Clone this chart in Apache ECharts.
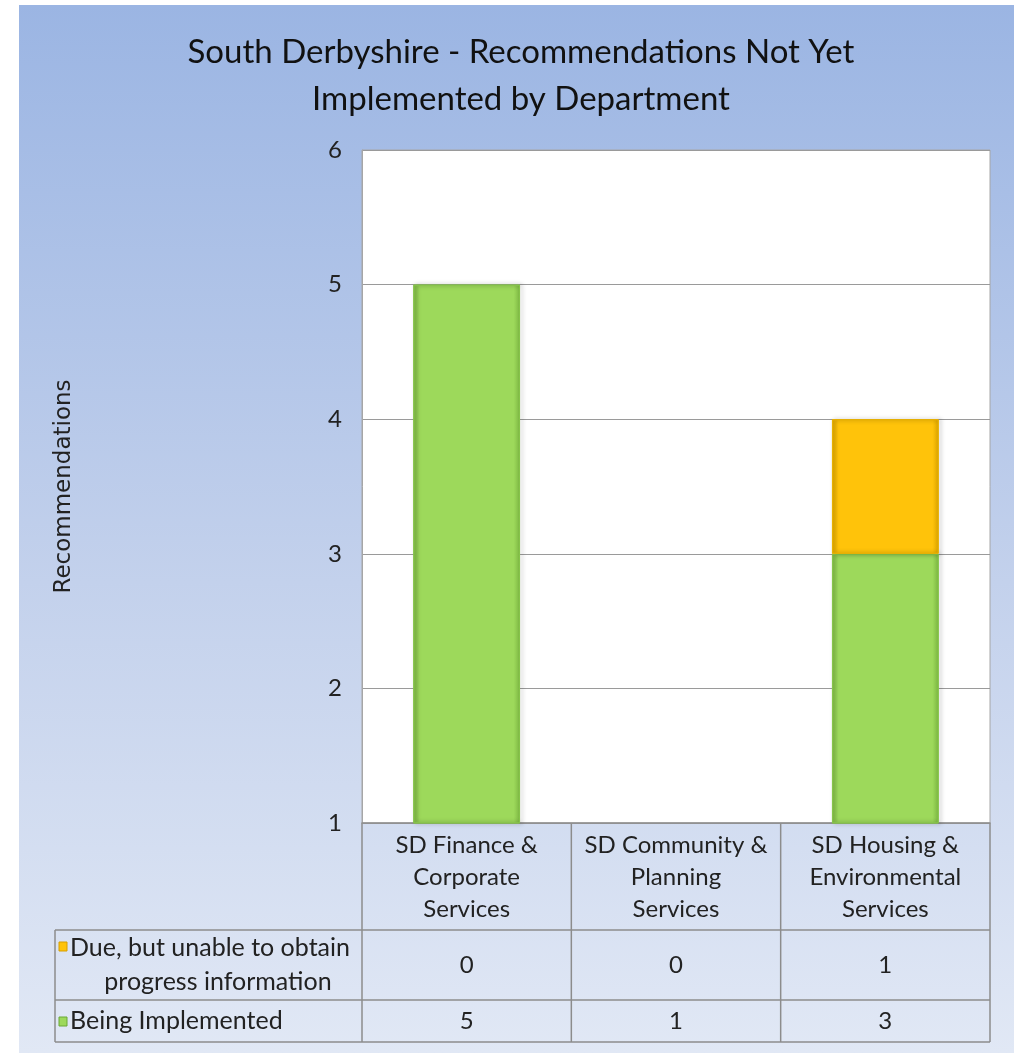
<!DOCTYPE html>
<html>
<head>
<meta charset="UTF-8">
<title>South Derbyshire</title>
<script src="https://cdn.jsdelivr.net/npm/echarts@6/dist/echarts.min.js"></script>
<style>
  body { margin: 0; background: #fff; }
  .panel {
    position: absolute; left: 19px; top: 5px; width: 995px; height: 1048px;
    background: linear-gradient(to bottom, #9bb5e3 0%, #c3d1ec 55%, #e1e8f5 100%);
  }
  #chart { position: absolute; left: 0; top: 0; width: 1020px; height: 1053px; }
</style>
</head>
<body>
<div class="panel"></div>
<div id="chart"></div>
<script>
  const FONT = "Lato, 'DejaVu Sans', sans-serif"
  const categories = ['SD Finance &\nCorporate\nServices', 'SD Community &\nPlanning\nServices', 'SD Housing &\nEnvironmental\nServices']
  const beingImplemented = [5, 1, 3]
  const dueNoInfo = [0, 0, 1]
  const seriesNames = ['Due, but unable to obtain\nprogress information', 'Being Implemented']
  const yTicks = [1, 2, 3, 4, 5, 6]

  const GREEN = '#9dd95b'
  const YELLOW = '#ffc30a'

  function bevel(c, dark) {
    return {
      type: 'linear', x: 0, y: 0, x2: 1, y2: 0,
      colorStops: [
        {offset: 0, color: dark}, {offset: 0.06, color: c},
        {offset: 0.94, color: c}, {offset: 1, color: dark}
      ]
    }
  }
  // zero values draw no bar (Excel shows nothing for them)
  const noZero = arr => arr.map(v => v === 0 ? '-' : v)

  let chart = echarts.init(document.getElementById('chart'), null, {renderer: 'canvas'})
  let option = {
    animation: false,
    title: {
      text: 'South Derbyshire - Recommendations Not Yet\nImplemented by Department',
      left: 516, top: 24, textAlign: 'center',
      textStyle: {fontFamily: FONT, fontSize: 33, fontWeight: 'normal', color: '#111', lineHeight: 47}
    },
    grid: {
      left: 362, top: 150, width: 628, height: 673,
      show: true, backgroundColor: '#fff', borderColor: '#a6a6a6', borderWidth: 1
    },
    xAxis: {
      type: 'category', data: categories,
      axisLine: {lineStyle: {color: '#8f8f8f', width: 1.5}},
      axisTick: {show: false},
      axisLabel: {interval: 0, fontFamily: FONT, fontSize: 24, color: '#222', lineHeight: 32, margin: 6}
    },
    yAxis: {
      type: 'value', min: yTicks[0], max: yTicks[yTicks.length - 1], interval: 1,
      name: 'Recommendations', nameLocation: 'middle', nameGap: 286, nameRotate: 90,
      nameTextStyle: {fontFamily: "'DejaVu Sans', sans-serif", fontSize: 23, color: '#222'},
      axisLine: {show: true, lineStyle: {color: '#a6a6a6'}},
      axisTick: {show: false},
      axisLabel: {fontFamily: FONT, fontSize: 24, color: '#222', margin: 20},
      splitLine: {lineStyle: {color: '#9a9a9a', width: 1}}
    },
    series: [
      {
        name: seriesNames[1], type: 'bar', stack: 'total', data: noZero(beingImplemented), barWidth: '51%',
        itemStyle: {color: bevel(GREEN, '#7fba44'), borderColor: '#86c44a', borderWidth: 1,
          shadowBlur: 4, shadowColor: 'rgba(0,0,0,0.35)', shadowOffsetX: 2}
      },
      {
        name: seriesNames[0], type: 'bar', stack: 'total', data: noZero(dueNoInfo), barWidth: '51%',
        itemStyle: {color: bevel(YELLOW, '#e0a800'), borderColor: '#e8b000', borderWidth: 1,
          shadowBlur: 4, shadowColor: 'rgba(0,0,0,0.35)', shadowOffsetX: 2}
      }
    ]
  }
  chart.setOption(option)

  // data table under the plot, built from the same arrays
  const tableLeft = 55, x0 = 362, x1 = 990
  const yHead = 823, yRow1 = 930, yRow2 = 1000, yEnd = 1042
  const lineStyle = {stroke: '#8c8c8c', lineWidth: 1.5}
  const cellFont = '24px ' + FONT
  let g = []
  let bounds = [x0]
  categories.forEach((c, i) => {
    let cx = chart.convertToPixel({xAxisIndex: 0}, i)
    let next = i < categories.length - 1 ? chart.convertToPixel({xAxisIndex: 0}, i + 1) : null
    bounds.push(next === null ? x1 : (cx + next) / 2)
    g.push({type: 'text', x: cx, y: (yRow1 + yRow2) / 2, style: {text: String(dueNoInfo[i]), font: cellFont, fill: '#222', align: 'center', verticalAlign: 'middle'}})
    g.push({type: 'text', x: cx, y: (yRow2 + yEnd) / 2, style: {text: String(beingImplemented[i]), font: cellFont, fill: '#222', align: 'center', verticalAlign: 'middle'}})
  })
  bounds.forEach(x => g.push({type: 'line', shape: {x1: x, y1: yHead, x2: x, y2: yEnd}, style: lineStyle}))
  g.push({type: 'line', shape: {x1: tableLeft, y1: yRow1, x2: tableLeft, y2: yEnd}, style: lineStyle})
  ;[yRow1, yRow2, yEnd].forEach(y => g.push({type: 'line', shape: {x1: tableLeft, y1: y, x2: x1, y2: y}, style: lineStyle}))
  // legend keys + names
  const legendFont = '25px ' + FONT
  g.push({type: 'rect', shape: {x: 59, y: 942, width: 8, height: 9}, style: {fill: YELLOW, stroke: '#d79f00', lineWidth: 1}})
  g.push({type: 'text', x: 70, y: 948, style: {text: seriesNames[0].split('\n')[0], font: legendFont, fill: '#222', verticalAlign: 'middle'}})
  g.push({type: 'text', x: 218, y: 982, style: {text: seriesNames[0].split('\n')[1], font: legendFont, fill: '#222', align: 'center', verticalAlign: 'middle'}})
  g.push({type: 'rect', shape: {x: 59, y: 1017, width: 8, height: 9}, style: {fill: GREEN, stroke: '#6aa836', lineWidth: 1}})
  g.push({type: 'text', x: 70, y: 1021, style: {text: seriesNames[1], font: legendFont, fill: '#222', verticalAlign: 'middle'}})
  chart.setOption({graphic: g})
</script>
</body>
</html>
